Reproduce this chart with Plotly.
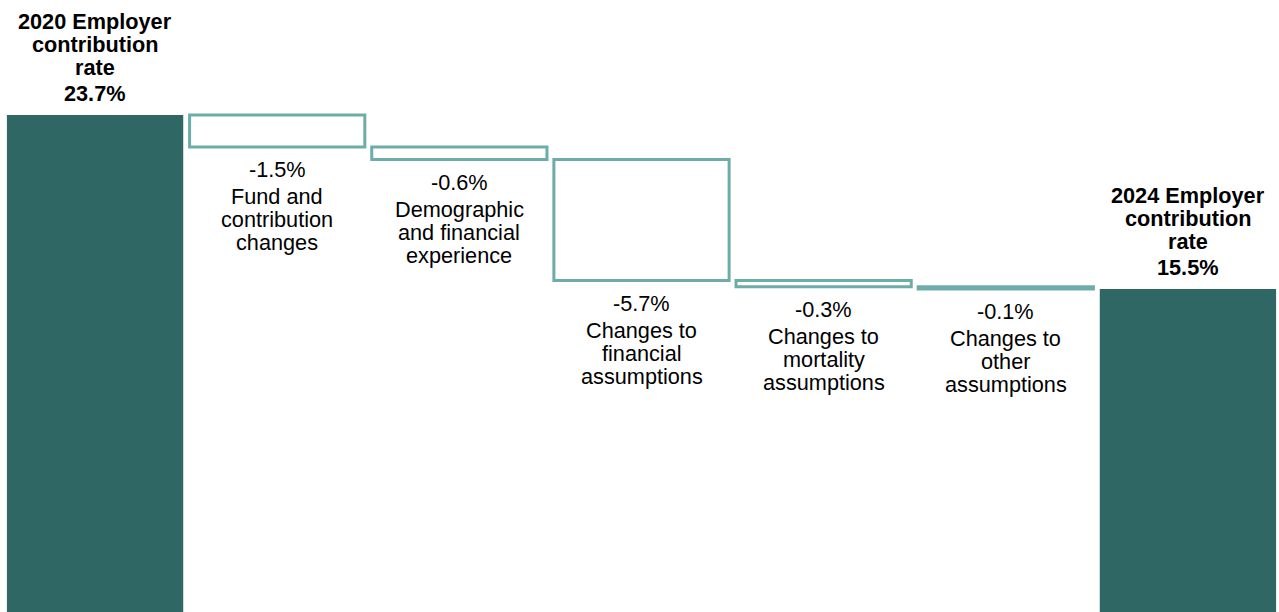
import plotly.graph_objects as go

# ---- data ----
label_lines = [
    ["2020 Employer", "contribution", "rate"],
    ["Fund and", "contribution", "changes"],
    ["Demographic", "and financial", "experience"],
    ["Changes to", "financial", "assumptions"],
    ["Changes to", "mortality", "assumptions"],
    ["Changes to", "other", "assumptions"],
    ["2024 Employer", "contribution", "rate"],
]
start_rate = 23.7
changes = [-1.5, -0.6, -5.7, -0.3, -0.1]
end_rate = 15.5

DARK = "#2f6764"
OUTLINE = "#6eacaa"
FONT = "Arial, Liberation Sans, sans-serif"
FS = 21.7

n = len(label_lines)
xs = list(range(n))

# cumulative bases for change bars
bases = []
level = start_rate
for c in changes:
    bases.append(level)
    level += c

fig = go.Figure()
fig.add_trace(go.Bar(
    x=[xs[0], xs[-1]], y=[start_rate, end_rate], base=[0, 0],
    width=0.968, marker=dict(color=DARK, line=dict(width=0)),
    hoverinfo="skip", showlegend=False,
))
fig.add_trace(go.Bar(
    x=xs[1:-1], y=changes, base=bases,
    width=0.962, marker=dict(color="white", line=dict(color=OUTLINE, width=3)),
    hoverinfo="skip", showlegend=False,
))

ann = []
# totals: labels above bar top, bold
for xi, val in ((xs[0], start_rate), (xs[-1], end_rate)):
    lines = label_lines[xi] + [f"{val:.1f}%"]
    shifts = [93.5, 70.5, 47.5, 21.5]
    for t, s in zip(lines, shifts):
        ann.append(dict(x=xi, y=val, xref="x", yref="y", text=f"<b>{t}</b>",
                        showarrow=False, xanchor="center", yanchor="middle",
                        yshift=s, font=dict(family=FONT, size=FS, color="black")))
# changes: labels below bar bottom
for i, c in enumerate(changes):
    xi = xs[i + 1]
    bottom = bases[i] + c
    lines = [f"{c:.1f}%"] + label_lines[xi]
    shifts = [-23.0, -50.0, -73.0, -96.0]
    for t, s in zip(lines, shifts):
        ann.append(dict(x=xi, y=bottom, xref="x", yref="y", text=t,
                        showarrow=False, xanchor="center", yanchor="middle",
                        yshift=s, font=dict(family=FONT, size=FS, color="black")))

fig.update_layout(
    width=1279, height=612,
    margin=dict(l=4, r=0, t=0, b=0),
    paper_bgcolor="white", plot_bgcolor="white",
    barmode="overlay",
    annotations=ann,
    xaxis=dict(range=[-0.5, 6.5], visible=False, fixedrange=True),
    yaxis=dict(range=[0.26, 29.13], visible=False, fixedrange=True),
)

fig.write_html("out.html")
